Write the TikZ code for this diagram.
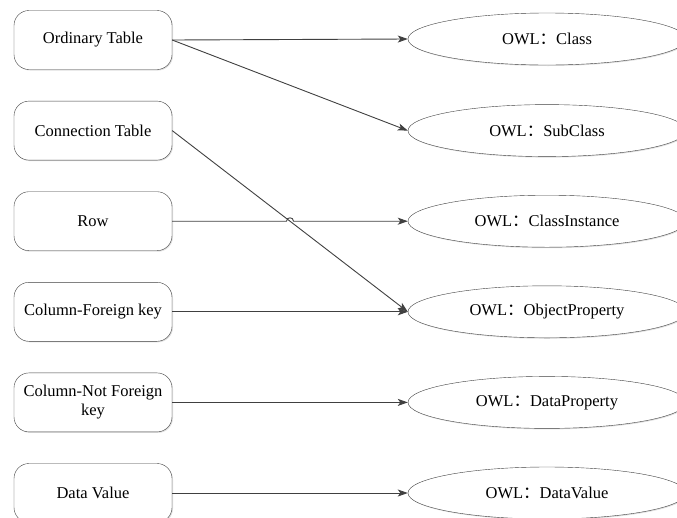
\documentclass[tikz,border=0pt]{standalone}
\usepackage{fontspec}
\setmainfont{Liberation Serif}
\newfontfamily\cjk{Noto Sans CJK SC}
\usetikzlibrary{shapes.geometric,arrows.meta,intersections,shadows}
\newcommand{\fwcolon}{{\cjk ：}}
\definecolor{linegray}{HTML}{404040}
\tikzset{
	table/.style = {shape=rectangle, rounded corners=15pt, draw=linegray, fill=white, align=center, minimum width=158pt, minimum height=59pt, inner sep=2pt, drop shadow={shadow xshift=1pt, shadow yshift=-1pt, opacity=0.25}},
	owl/.style = {shape=ellipse, draw=linegray, fill=white, align=center, minimum width=278pt, minimum height=52pt, inner sep=0pt, drop shadow={shadow xshift=1pt, shadow yshift=-1pt, opacity=0.25}},
	link/.style = {draw=linegray, line width=0.9pt, -{Stealth[length=10pt, width=7pt, inset=2.5pt]}},
}

\begin{document}
\begin{tikzpicture}[x=1pt, y=-1pt, font=\fontsize{16.5}{19}\selectfont]
		\useasboundingbox (0,0) rectangle (677,517);
		\begin{scope}
		\clip (0,0) rectangle (677,517);

		\node[table] (ot) at (93, 40) {Ordinary Table};
		\node[table] (ct) at (93, 130.6) {Connection Table};
		\node[table] (row) at (93, 221.2) {Row};
		\node[table] (cfk) at (93, 311.8) {Column-Foreign key};
		\node[table] (cnfk) at (93, 402.4) {Column-Not Foreign\\key};
		\node[table] (dv) at (93, 493) {Data Value};

		\node[owl] (cls) at (547, 39) {OWL\fwcolon Class};
		\node[owl] (sub) at (547, 130.6) {OWL\fwcolon SubClass};
		\node[owl] (ci) at (547, 221.2) {OWL\fwcolon ClassInstance};
		\node[owl] (op) at (547, 311.8) {OWL\fwcolon ObjectProperty};
		\node[owl] (dp) at (547, 402.4) {OWL\fwcolon DataProperty};
		\node[owl] (dval) at (547, 493) {OWL\fwcolon DataValue};

		\draw[link] (ot.east) -- (cls.west);
		\draw[link] (ot.east) -- (sub.west);
		\draw[link, name path=ctline] (ct.east) -- (op.west);
		\path[name path=rowline] (row.east) -- (ci.west);
		\path[name intersections={of=ctline and rowline, by=hop}];
		\draw[link] (row.east) -- ([xshift=-3.5pt]hop) .. controls +(0,4.5pt) and +(0,4.5pt) .. ([xshift=3.5pt]hop) -- (ci.west);
		\draw[link] (cfk.east) -- (op.west);
		\draw[link] (cnfk.east) -- (dp.west);
		\draw[link] (dv.east) -- (dval.west);
		\end{scope}
	\end{tikzpicture}
\end{document}
